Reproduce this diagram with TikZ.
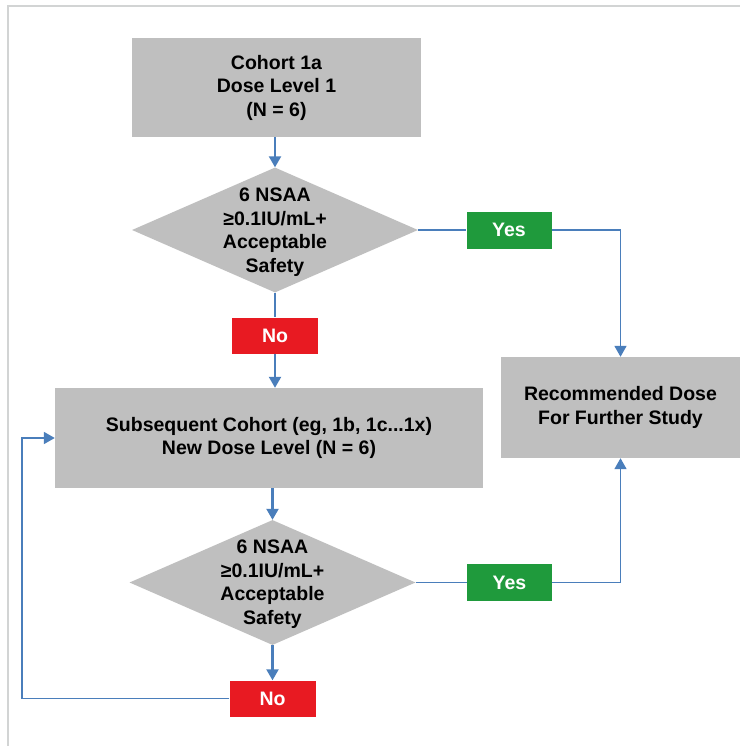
\documentclass[tikz,border=0pt]{standalone}
\usepackage{fontspec}
\setmainfont{Liberation Sans}
\usetikzlibrary{shapes.geometric,arrows.meta}
\definecolor{boxgray}{RGB}{191,191,191}
\definecolor{linkblue}{RGB}{74,126,187}
\definecolor{yesgreen}{RGB}{31,154,60}
\definecolor{nored}{RGB}{232,26,34}
\definecolor{framegray}{RGB}{210,212,212}
\begin{document}
\begin{tikzpicture}[x=1pt,y=-1pt,
  every node/.style={font=\fontsize{19.5}{23.5}\selectfont\bfseries, align=center},
  graybox/.style={fill=boxgray, draw=none, inner sep=0pt},
  decbox/.style={shape=diamond, fill=boxgray, draw=none, inner sep=0pt, minimum width=286pt, minimum height=125pt},
  dectext/.style={inner sep=0pt},
  yesbox/.style={fill=yesgreen, text=white, minimum width=85pt, minimum height=37pt, inner sep=0pt},
  nobox/.style={fill=nored, text=white, minimum width=86pt, minimum height=36pt, inner sep=0pt},
  tip/.style={-{Triangle[width=12pt,length=11pt]}},
  arr/.style={draw=linkblue, line width=2.2pt, tip},
  plain/.style={draw=linkblue, line width=1.7pt},
  framel/.style={draw=framegray, line width=1.5pt}
]
\useasboundingbox (0,0) rectangle (740,746);
\fill[white] (0,0) rectangle (740,746);
\draw[framel] (8,746) -- (8,6) -- (740,6);

\node[graybox, minimum width=289pt, minimum height=99pt] (b1) at (276.5,87.5) {Cohort 1a\\Dose Level 1\\(N = 6)};
\node[decbox] (d1) at (275,230) {};
\node[dectext] (d1t) at (275,232) {6 NSAA\\≥0.1IU/mL+\\Acceptable\\Safety};
\node[yesbox] (y1) at (509,230) {Yes};
\node[nobox] (n1) at (275,335.5) {No};
\node[graybox, minimum width=239pt, minimum height=101pt] (rec) at (620.5,407.5) {Recommended Dose\\For Further Study};
\node[graybox, minimum width=428pt, minimum height=100pt] (b2) at (269,438) {Subsequent Cohort (eg, 1b, 1c...1x)\\New Dose Level (N = 6)};
\node[decbox] (d2) at (272.5,582.5) {};
\node[dectext] (d2t) at (272.5,584) {6 NSAA\\≥0.1IU/mL+\\Acceptable\\Safety};
\node[yesbox] (y2) at (509.5,582.5) {Yes};
\node[nobox] (n2) at (272.5,698.5) {No};
\coordinate (lp) at (22,698.5);

\draw[arr] (d1.north |- b1.south) -- (d1.north);
\draw[plain] (d1.south) -- (n1.north);
\draw[arr] (n1.south) -- (n1.south |- b2.north);
\draw[plain] (d1.east) -- (y1.west);
\draw[plain, tip] (y1.east) -| (rec.north);
\draw[arr] (d2.north |- b2.south) -- (d2.north);
\draw[plain] (d2.east) -- (y2.west);
\draw[plain, tip] (y2.east) -| (rec.south);
\draw[arr] (d2.south) -- (n2.north);
\draw[plain, tip] (n2.west) -- (lp) |- (b2.west);
\end{tikzpicture}
\end{document}
